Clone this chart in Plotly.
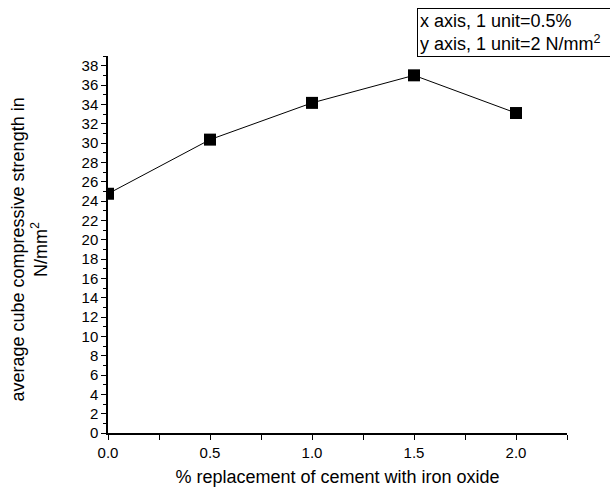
import plotly.graph_objects as go

x_vals = [0.0, 0.5, 1.0, 1.5, 2.0]
y_vals = [24.75, 30.35, 34.15, 37.0, 33.1]

x_title = "% replacement of cement with iron oxide"
y_title = "average cube compressive strength in<br>N/mm<sup>2</sup>"
note = "x axis, 1 unit=0.5%<br>y axis, 1 unit=2 N/mm<sup>2</sup>"

font = "Liberation Sans, Arial, sans-serif"

fig = go.Figure()
fig.add_trace(go.Scatter(
    x=x_vals, y=y_vals, mode="lines+markers",
    line=dict(color="black", width=1),
    marker=dict(symbol="square", size=12, color="black"),
    cliponaxis=True, showlegend=False,
))

fig.update_layout(
    width=610, height=492,
    margin=dict(l=108, r=43, t=56, b=59),
    paper_bgcolor="white", plot_bgcolor="white",
    font=dict(family=font, size=15, color="black"),
    xaxis=dict(
        range=[0, 2.25], dtick=0.5, tick0=0, tickformat=".1f", automargin=False,
        showgrid=False, zeroline=False, showline=True, linecolor="black", linewidth=1.5,
        ticks="outside", ticklen=5, tickwidth=1, tickcolor="black",
        minor=dict(dtick=0.25, tick0=0, ticks="outside", ticklen=5, tickwidth=1, tickcolor="black", showgrid=False),
        title=dict(text=x_title, font=dict(size=18), standoff=11),
        tickfont=dict(size=15),
    ),
    yaxis=dict(
        range=[0, 39], dtick=2, tick0=0, automargin=False,
        showgrid=False, zeroline=False, showline=True, linecolor="black", linewidth=1.5,
        ticks="outside", ticklen=5, tickwidth=1, tickcolor="black",
        minor=dict(dtick=1, tick0=0, ticks="outside", ticklen=3, tickwidth=1, tickcolor="black", showgrid=False),
        tickfont=dict(size=15),
    ),
    annotations=[
        dict(text=y_title, textangle=-90, xref="paper", yref="paper",
             x=-(108 - 29) / 459, y=0.5 - 5 / 377, xanchor="center", yanchor="middle",
             showarrow=False, font=dict(size=18)),
        dict(text=note, xref="paper", yref="paper",
             x=(417 - 108) / 459, y=1 + (56 - 8) / 377, xanchor="left", yanchor="top",
             align="left", showarrow=False, font=dict(size=18), width=230,
             bordercolor="black", borderwidth=1, borderpad=2, bgcolor="white"),
    ],
)

fig.write_html("out.html")
